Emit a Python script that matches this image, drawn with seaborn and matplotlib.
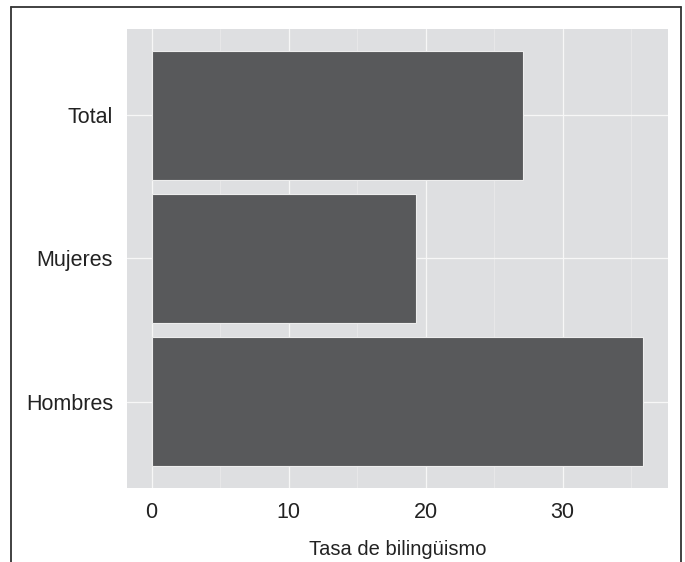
import matplotlib
matplotlib.use("Agg")
import matplotlib.pyplot as plt
import seaborn as sns
import pandas as pd
from matplotlib import font_manager
from matplotlib.lines import Line2D
from matplotlib.ticker import MultipleLocator

# ==============================
# DATA
# ==============================
grupos = ["Total", "Mujeres", "Hombres"]
tasa = [27.1, 19.3, 35.9]
xticks = [0, 10, 20, 30]

df = pd.DataFrame({"grupo": grupos, "tasa": tasa})

# ==============================
# STYLE
# ==============================
sns.set_style("white")
nombres = {f.name for f in font_manager.fontManager.ttflist}
fam = "Liberation Sans Narrow" if "Liberation Sans Narrow" in nombres else "Liberation Sans"
plt.rcParams["font.family"] = [fam, "DejaVu Sans"]

fig = plt.figure(figsize=(6.85, 5.62), dpi=100)
ax = fig.add_axes([0.1854, 0.1317, 0.7898, 0.8167])
ax.set_facecolor("#DEDFE1")

sns.barplot(data=df, x="tasa", y="grupo", order=grupos, orient="h",
            color="#58595B", saturation=1, width=0.9,
            edgecolor="#EDEDED", linewidth=0.8, ax=ax)

ax.set_xlim(-1.8, 37.7)
ax.set_ylim(2.6, -0.6)
ax.set_xticks(xticks)
ax.xaxis.set_minor_locator(MultipleLocator(5))

ax.set_axisbelow(True)
ax.grid(True, which="major", axis="both", color="#F7F7F7", linewidth=0.9)
ax.grid(True, which="minor", axis="x", color="#EBEBEC", linewidth=0.5)
ax.tick_params(which="minor", length=0)
ax.tick_params(which="major", length=4, width=0.9, color="#8A8A8A",
               labelsize=15.5, labelcolor="#222222", pad=6)
for s in ax.spines.values():
    s.set_visible(False)

ax.set_ylabel("")
ax.set_xlabel("Tasa de bilingüismo", fontsize=14.5, color="#222222", labelpad=12)

# marco de la figura (sin borde inferior, recortado)
fig.add_artist(Line2D([11 / 685, 11 / 685], [0, 1 - 6.5 / 562], color="#333333", lw=1.3))
fig.add_artist(Line2D([11 / 685, 681 / 685], [1 - 6.5 / 562, 1 - 6.5 / 562], color="#333333", lw=1.3))
fig.add_artist(Line2D([681 / 685, 681 / 685], [0, 1 - 6.5 / 562], color="#333333", lw=1.3))

fig.savefig("out.png", dpi=100)
